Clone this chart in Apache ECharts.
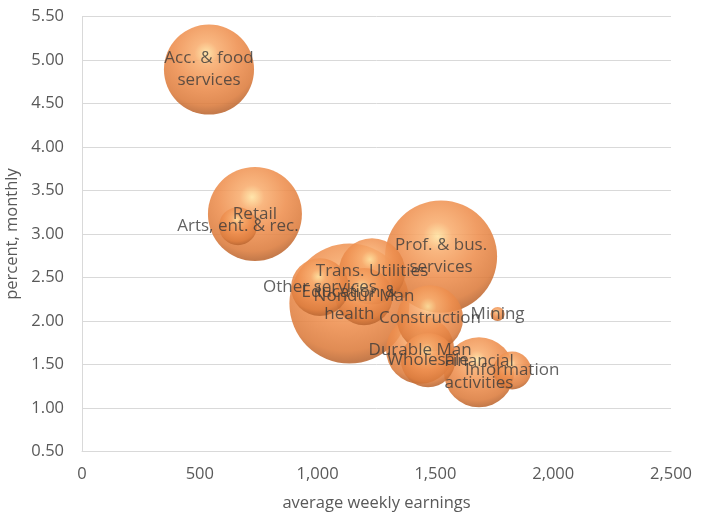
<!DOCTYPE html>
<html>
<head>
<meta charset="utf-8">
<title>Industry bubbles</title>
<script src="https://cdn.jsdelivr.net/npm/echarts@6/dist/echarts.min.js"></script>
<style>
  html, body { margin: 0; padding: 0; background: #ffffff; }
  #chart { width: 709px; height: 512px; }
</style>
</head>
<body>
<div id="chart"></div>
<script>
// Industries: average weekly earnings, monthly rate (percent) and employment size
const sectors = [
  'Education & health', 'Prof. & bus. services', 'Retail', 'Acc. & food services',
  'Financial activities', 'Durable Man', 'Construction', 'Trans. Utilities',
  'Nondur Man', 'Other services', 'Wholesale', 'Arts, ent. & rec.',
  'Information', 'Mining'
];
const labelLines = [
  'Education &\nhealth', 'Prof. & bus.\nservices', 'Retail', 'Acc. & food\nservices',
  'Financial\nactivities', 'Durable Man', 'Construction', 'Trans. Utilities',
  'Nondur Man', 'Other services', 'Wholesale', 'Arts, ent. & rec.',
  'Information', 'Mining'
];
const earnings = [1135, 1524, 734, 539, 1685, 1435, 1477, 1231, 1197, 1010, 1469, 662, 1826, 1764];
const rates    = [2.20, 2.74, 3.23, 4.89, 1.41, 1.67, 2.03, 2.57, 2.28, 2.39, 1.55, 3.09, 1.43, 2.08];
const employment = [22.0, 19.2, 13.5, 12.4, 7.5, 7.1, 6.7, 6.7, 5.0, 5.1, 4.5, 2.2, 2.2, 0.3];

const xTicks = { min: 0, max: 2500, interval: 500 };
const yTicks = { min: 0.5, max: 5.5, interval: 0.5 };

const maxEmployment = Math.max(...employment);
const maxDiameter = 120;
const bubbleSize = v => Math.sqrt(v[2] / maxEmployment) * maxDiameter;

const points = sectors.map((name, i) => ({
  name: name,
  value: [earnings[i], rates[i], employment[i]],
  labelText: labelLines[i]
}));

// shaded sphere fill
const sphere = {
  type: 'radial', x: 0.47, y: 0.32, r: 0.72,
  colorStops: [
    { offset: 0.0, color: '#ffe2a0' },
    { offset: 0.18, color: '#f8ad6f' },
    { offset: 0.5, color: '#ee8f4f' },
    { offset: 0.8, color: '#dc7c3d' },
    { offset: 0.93, color: '#bd6832' },
    { offset: 1.0, color: '#cf7f4a' }
  ]
};

const textFont = '"Open Sans", "Noto Sans", sans-serif';

const chart = echarts.init(document.getElementById('chart'), null, { renderer: 'canvas' });
chart.setOption({
  animation: false,
  backgroundColor: '#ffffff',
  grid: {
    left: 82, right: 38, top: 16.5, bottom: 60.5,
    containLabel: false, outerBoundsMode: 'none'
  },
  xAxis: {
    type: 'value',
    min: xTicks.min, max: xTicks.max, interval: xTicks.interval,
    name: 'average weekly earnings',
    nameLocation: 'middle', nameGap: 43,
    nameTextStyle: { color: '#595959', fontSize: 16.5, fontFamily: textFont },
    axisLine: { show: true, lineStyle: { color: '#d9d9d9', width: 1 } },
    axisTick: { show: false },
    splitLine: { show: false },
    axisLabel: {
      color: '#595959', fontSize: 16.5, fontFamily: textFont, margin: 14,
      formatter: v => v.toLocaleString('en-US')
    }
  },
  yAxis: {
    type: 'value',
    min: yTicks.min, max: yTicks.max, interval: yTicks.interval,
    name: 'percent, monthly',
    nameLocation: 'middle', nameGap: 51, nameRotate: 90,
    nameTextStyle: { color: '#595959', fontSize: 16.5, fontFamily: textFont },
    axisLine: { show: true, lineStyle: { color: '#d9d9d9', width: 1 } },
    axisTick: { show: false },
    splitLine: { show: true, lineStyle: { color: '#d9d9d9', width: 1 } },
    axisLabel: {
      color: '#595959', fontSize: 16.5, fontFamily: textFont, margin: 18,
      formatter: v => v.toFixed(2)
    }
  },
  series: [
    {
      name: 'bubbles',
      type: 'scatter',
      z: 2,
      data: points,
      symbolSize: bubbleSize,
      itemStyle: { color: sphere, opacity: 0.88 },
      emphasis: { disabled: true },
      label: { show: false }
    },
    {
      name: 'labels',
      type: 'scatter',
      z: 5,
      data: points,
      symbolSize: 1,
      itemStyle: { color: 'rgba(0,0,0,0)' },
      emphasis: { disabled: true },
      label: {
        show: true,
        position: 'inside',
        formatter: p => p.data.labelText,
        color: '#3a3a3a',
        fontSize: 17,
        lineHeight: 22,
        fontFamily: textFont
      }
    }
  ]
});
</script>
</body>
</html>
